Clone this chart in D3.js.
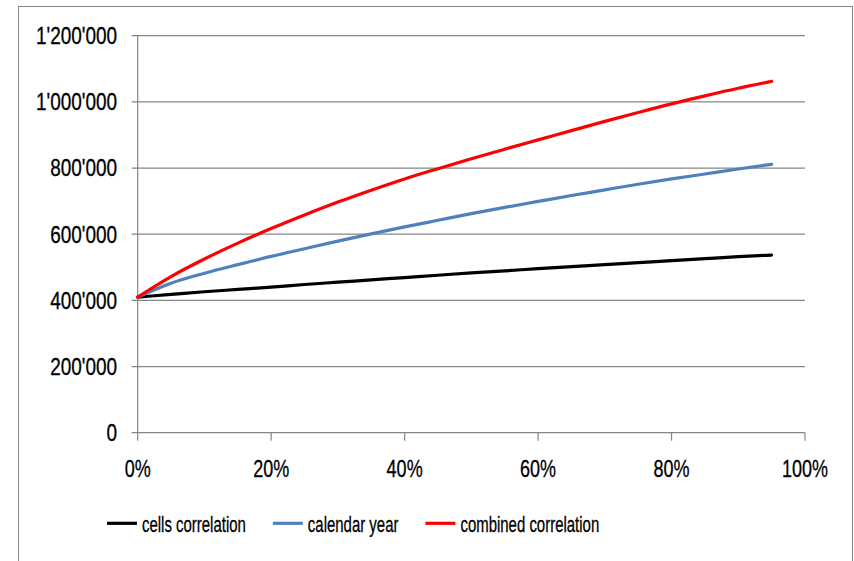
<!DOCTYPE html>
<html>
<head>
<meta charset="utf-8">
<script src="https://cdn.jsdelivr.net/npm/d3@7"></script>
<style>
  html, body { margin: 0; padding: 0; background: #fff; }
  svg { display: block; }
  text { font-family: "Liberation Sans", Arial, sans-serif; fill: #000; stroke: #000; stroke-width: 0.3px; }
</style>
</head>
<body>
<svg id="chart" width="854" height="561"></svg>
<script>
// Share of correlation (x) and resulting amount per series (y)
const xValues = [0, 0.05, 0.10, 0.15, 0.20, 0.25, 0.30, 0.35, 0.40, 0.45,
                 0.50, 0.55, 0.60, 0.65, 0.70, 0.75, 0.80, 0.85, 0.90, 0.95];
const cellsCorrelation = [410000, 418000, 426000, 433000, 440000, 448000, 455000, 462000, 469000, 476000,
                          483000, 489000, 496000, 502000, 508000, 514000, 520000, 526000, 532000, 537000];
const calendarYear = [410000, 452000, 482000, 508000, 533000, 556000, 579000, 601000, 622000, 642000,
                      662000, 681000, 699000, 717000, 734000, 751000, 767000, 782000, 797000, 811000];
const combinedCorrelation = [410000, 472000, 525000, 573000, 617000, 658000, 697000, 733000, 767000, 798000,
                             828000, 857000, 885000, 913000, 941000, 968000, 994000, 1018000, 1041000, 1062000];

const seriesNames = ["cells correlation", "calendar year", "combined correlation"];
const seriesColors = ["#000000", "#4F81BD", "#FF0000"];
const seriesValues = [cellsCorrelation, calendarYear, combinedCorrelation];

const yTicks = [0, 200000, 400000, 600000, 800000, 1000000, 1200000];
const xTicks = [0, 0.2, 0.4, 0.6, 0.8, 1.0];

(function draw() {
  const svg = d3.select("#chart");
  const grid = "#868686";

  // Plot geometry
  const plotLeft = 137.7, plotRight = 805, plotTop = 35.7, plotBottom = 432.7;
  const x = d3.scaleLinear().domain([0, 1]).range([plotLeft, plotRight]);
  const y = d3.scaleLinear().domain([0, 1200000]).range([plotBottom, plotTop]);

  const fmtY = d3.formatLocale({ decimal: ".", thousands: "'", grouping: [3], currency: ["", ""] }).format(",");
  const fmtX = d3.format(".0%");

  // Outer chart frame
  svg.append("rect")
    .attr("x", 18.5).attr("y", 6.5)
    .attr("width", 834).attr("height", 600)
    .attr("fill", "none").attr("stroke", grid).attr("stroke-width", 1);

  // Horizontal gridlines (with small outward tick)
  svg.append("g").selectAll("line").data(yTicks).join("line")
    .attr("x1", plotLeft - 6).attr("x2", plotRight)
    .attr("y1", d => y(d)).attr("y2", d => y(d))
    .attr("stroke", grid).attr("stroke-width", 1.2);

  // Y axis line
  svg.append("line")
    .attr("x1", plotLeft).attr("x2", plotLeft)
    .attr("y1", plotTop).attr("y2", plotBottom)
    .attr("stroke", grid).attr("stroke-width", 1.2);

  // X axis ticks
  svg.append("g").selectAll("line").data(xTicks).join("line")
    .attr("x1", d => x(d)).attr("x2", d => x(d))
    .attr("y1", plotBottom).attr("y2", plotBottom + 8)
    .attr("stroke", grid).attr("stroke-width", 1.2);

  // Y tick labels
  svg.append("g").selectAll("text").data(yTicks).join("text")
    .attr("transform", d => `translate(117,${y(d) + 8.3}) scale(0.79,1)`)
    .attr("text-anchor", "end")
    .attr("font-size", 24)
    .text(d => fmtY(d));

  // X tick labels
  svg.append("g").selectAll("text").data(xTicks).join("text")
    .attr("transform", d => `translate(${x(d)},476.5) scale(0.75,1)`)
    .attr("text-anchor", "middle")
    .attr("font-size", 24)
    .text(d => fmtX(d));

  // Series lines
  const line = d3.line()
    .x((d, i) => x(xValues[i]))
    .y(d => y(d))
    .curve(d3.curveMonotoneX);

  svg.append("g").selectAll("path").data(seriesValues).join("path")
    .attr("d", d => line(d))
    .attr("fill", "none")
    .attr("stroke", (d, i) => seriesColors[i])
    .attr("stroke-width", 3.2)
    .attr("stroke-linecap", "round")
    .attr("stroke-linejoin", "round");

  // Legend
  const legend = svg.append("g");
  const legendY = 523.3, textScale = 0.68;
  let lx = 107;
  seriesNames.forEach((name, i) => {
    legend.append("line")
      .attr("x1", lx).attr("x2", lx + 30)
      .attr("y1", legendY).attr("y2", legendY)
      .attr("stroke", seriesColors[i]).attr("stroke-width", 3.2);
    const t = legend.append("text")
      .attr("transform", `translate(${lx + 35},531.5) scale(${textScale},1)`)
      .attr("font-size", 22)
      .text(name);
    const w = t.node().getComputedTextLength() * textScale;
    lx += 35 + w + 27;
  });
})();
</script>
</body>
</html>
